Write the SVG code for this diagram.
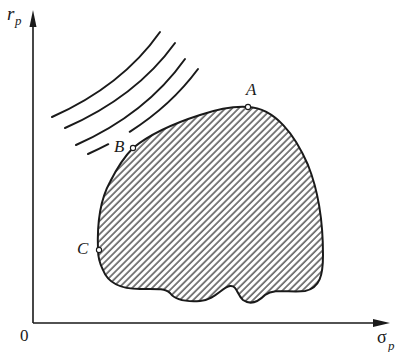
<svg xmlns="http://www.w3.org/2000/svg" width="398" height="352" viewBox="0 0 398 352">
<style>
.ax{stroke:#1a1a1a;stroke-width:1.6;fill:none}
.ic{stroke:#1a1a1a;stroke-width:2;fill:none;stroke-linecap:round}
.bd{stroke:#1a1a1a;stroke-width:2;fill:url(#hatch)}
.pt{fill:#fff;stroke:#1a1a1a;stroke-width:1.1}
.lb{font-family:"Liberation Serif","DejaVu Serif",serif;font-style:italic;font-size:17px;fill:#1a1a1a}
.num{font-family:"Liberation Serif","DejaVu Serif",serif;font-size:17px;fill:#1a1a1a}
</style>
<defs>
<pattern id="hatch" patternUnits="userSpaceOnUse" width="4.7" height="10" patternTransform="rotate(45)">
<line x1="1" y1="0" x2="1" y2="10" stroke="#1e1e1e" stroke-width="1.15"/>
</pattern>
</defs>
<rect width="398" height="352" fill="#fff"/>
<g id="axes">
<path class="ax" d="M33,323 V24 M33,323 H376"/>
<path d="M33,10 L29.5,27 L36.5,27 Z" fill="#1a1a1a"/>
<path d="M390,323 L373,319 L373,327 Z" fill="#1a1a1a"/>
<text class="lb" x="7" y="20" style="font-size:19px">r</text>
<text class="lb" x="15" y="25" style="font-size:13px">p</text>
<text class="num" x="377" y="343" style="font-size:18px">σ</text>
<text class="lb" x="388" y="350" style="font-size:13px">p</text>
<text class="num" x="20" y="341">0</text>
</g>
<g id="indifference-curves">
<path class="ic" d="M52,117 Q122,86 160,32"/>
<path class="ic" d="M65,128 Q136,97 175,43"/>
<path class="ic" d="M76,145 Q146,114 185,59"/>
<path class="ic" d="M88,154 Q98.5,149.35 108.3,144.2"/>
<path class="ic" d="M129.7,131.8 Q170.8,105.72 198,69"/>
</g>
<g id="region">
<path class="bd" d="M133,148 C150,134 175,123 200,115 C218,109 235,106 248,107 C275,108 295,135 308,165 C318,190 323,220 323,255 C323,275 320,288 305,291 C290,293 275,288 265,295 C258,302 250,305 243,300 C237,295 237,285 230,286 C222,287 215,300 200,301 C185,302 175,300 170,293 C165,288 155,289 140,289 C120,289 108,283 103,270 C99,262 98,255 98,250 C97,225 100,200 110,182 C116,170 124,157 133,148 Z"/>
</g>
<g id="point-A">
<circle class="pt" cx="248" cy="107" r="2.6"/>
<text class="lb" x="246" y="95">A</text>
</g>
<g id="point-B">
<circle class="pt" cx="133" cy="148" r="2.6"/>
<text class="lb" x="114" y="152">B</text>
</g>
<g id="point-C">
<circle class="pt" cx="99" cy="250" r="2.6"/>
<text class="lb" x="77" y="254">C</text>
</g>
</svg>
